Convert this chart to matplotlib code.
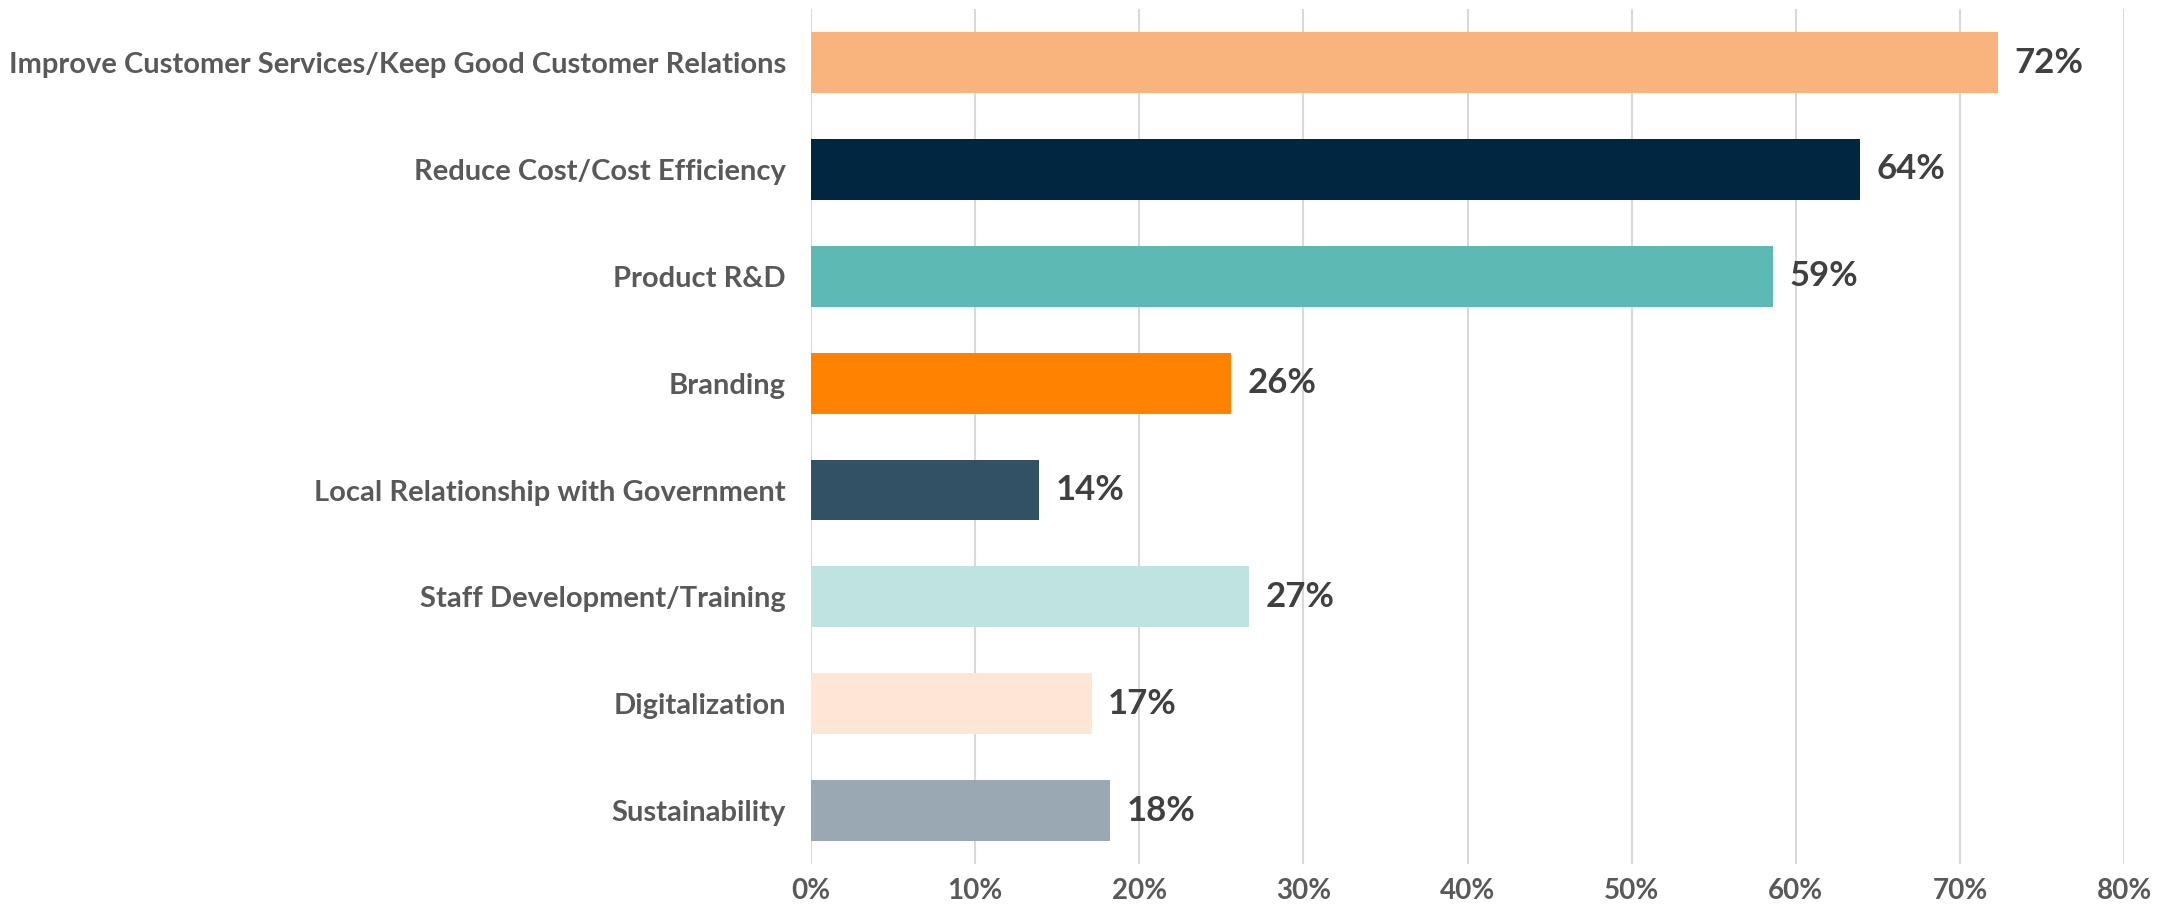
import numpy as np
import matplotlib.pyplot as plt

# survey answers, top to bottom
categories = [
    "Improve Customer Services/Keep Good Customer Relations",
    "Reduce Cost/Cost Efficiency",
    "Product R&D",
    "Branding",
    "Local Relationship with Government",
    "Staff Development/Training",
    "Digitalization",
    "Sustainability",
]
values = [72.3, 63.9, 58.6, 25.6, 13.9, 26.7, 17.1, 18.2]
bar_colors = ["#F8B47C", "#01263F", "#5DB9B3", "#FF8200",
              "#335165", "#BFE3E0", "#FDE6D5", "#99A8B2"]
xticks = [0, 10, 20, 30, 40, 50, 60, 70, 80]

plt.rcParams['font.family'] = ['Lato', 'DejaVu Sans']

fig = plt.figure(figsize=(21.75, 9.14), dpi=100)
ax = fig.add_axes([0.3729, 0.0547, 0.6037, 0.9353])

y = np.arange(len(categories))
ax.barh(y, values, height=0.57, color=bar_colors, zorder=2)

for yi, v in zip(y, values):
    ax.text(v + 1.0, yi, f"{round(v)}%", va='center', ha='left',
            fontsize=25, fontweight='bold', color='#404040')

ax.set_xlim(0, 80)
ax.set_ylim(len(categories) - 0.5, -0.5)
ax.set_yticks(y)
ax.set_yticklabels(categories, fontsize=21, fontweight='bold', color='#595959')
ax.set_xticks(xticks)
ax.set_xticklabels([f"{t}%" for t in xticks], fontsize=20, fontweight='bold', color='#595959')
ax.tick_params(axis='y', length=0, pad=18)
ax.tick_params(axis='x', length=0, pad=10)

ax.grid(axis='x', color='#D9D9D9', linewidth=1.5, zorder=0)
ax.set_axisbelow(True)
for s in ax.spines.values():
    s.set_visible(False)

fig.savefig("out.png", dpi=100, facecolor='white')
